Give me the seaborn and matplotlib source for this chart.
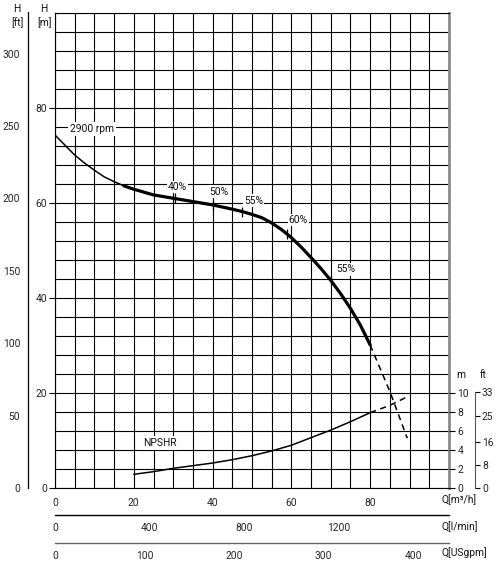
import numpy as np
import matplotlib
matplotlib.use("Agg")
import matplotlib.pyplot as plt
import matplotlib.ticker as mticker
import seaborn as sns

# pump head curve (Q in m3/h, H in m)
q_head = [0, 2.5, 5, 7.5, 10, 12.5, 15, 17.5, 20]
h_head = [74.3, 72.2, 70.1, 68.4, 66.9, 65.5, 64.5, 63.6, 62.9]
q_head_op = [17.5, 20, 25, 30, 35, 40, 45, 47.5, 50, 52.5, 55, 57.5, 60,
             62.5, 65, 67.5, 70, 72.5, 75, 77.5, 80]
h_head_op = [63.6, 62.9, 61.7, 61.0, 60.3, 59.6, 58.7, 58.2, 57.6, 56.9, 55.8,
             54.4, 52.7, 50.7, 48.5, 46.2, 43.7, 40.9, 37.8, 34.3, 30.1]
q_head_ext = [80, 82.5, 85, 89.4]
h_head_ext = [30.1, 25.2, 20.3, 10.5]

# NPSHR curve (m)
q_npsh = [20, 25, 30, 35, 40, 45, 50, 55, 60, 65, 70, 75, 80]
npsh = [1.44, 1.72, 2.07, 2.35, 2.63, 2.98, 3.4, 3.9, 4.5, 5.3, 6.1, 6.98, 7.93]
q_npsh_ext = [80, 85, 89.4]
npsh_ext = [7.93, 8.7, 9.6]

# efficiency marks on the head curve
eff_text = ["40%", "50%", "55%", "60%", "55%"]
eff_q = [30.5, 40, 47.5, 58.9, 70]
eff_h = [61.0, 59.6, 58.2, 53.5, 43.7]
eff_text_q = [31.1, 41.5, 50.4, 61.8, 73.7]
eff_text_h = [63.4, 62.4, 60.5, 56.4, 46.0]

# secondary scales
ft_ticks = [0, 50, 100, 150, 200, 250, 300]
npsh_ticks = [0, 2, 4, 6, 8, 10]
npsh_ft_ticks = [0, 8, 16, 25, 33]
lmin_ticks = [0, 400, 800, 1200]
gpm_ticks = [0, 100, 200, 300, 400]

W, H = 496, 567
M_FT = 0.3048
FS = 7.4
sns.set_style("white")
plt.rcParams['font.family'] = ['Roboto', 'DejaVu Sans']
plt.rcParams['font.size'] = FS
plt.rcParams['text.color'] = '#111111'

fig = plt.figure(figsize=(W / 100, H / 100), dpi=100)


def box(x0, y0, x1, y1):
    return [x0 / W, 1 - y1 / H, (x1 - x0) / W, (y1 - y0) / H]


def ftxt(x, y, s, ha='center'):
    fig.text(x / W, 1 - y / H, s, ha=ha, va='center', fontsize=FS)


ax = fig.add_axes(box(55, 13, 449, 488))
ax.set_xlim(0, 100)
ax.set_ylim(0, 100)
ax.xaxis.set_major_locator(mticker.FixedLocator([0, 20, 40, 60, 80]))
ax.xaxis.set_minor_locator(mticker.MultipleLocator(5))
ax.yaxis.set_major_locator(mticker.FixedLocator([0, 20, 40, 60, 80]))
ax.yaxis.set_minor_locator(mticker.MultipleLocator(4))
ax.grid(which='both', color='black', lw=0.8)
ax.set_axisbelow(True)
ax.tick_params(axis='x', which='both', length=0, pad=7, labelsize=FS)
ax.tick_params(axis='y', which='major', length=4, width=0.8, pad=1.5,
               color='black', labelsize=FS)
ax.tick_params(axis='y', which='minor', length=0)
for s in ['left', 'top', 'bottom']:
    ax.spines[s].set_color('black')
    ax.spines[s].set_linewidth(0.8)
ax.spines['right'].set_color('#8a8a8a')
ax.spines['right'].set_linewidth(2.0)

# head curve
sns.lineplot(x=q_head, y=h_head, ax=ax, color='black', lw=1.1, sort=False)
sns.lineplot(x=q_head_op, y=h_head_op, ax=ax, color='black', lw=2.3, sort=False)
sns.lineplot(x=q_head_ext, y=h_head_ext, ax=ax, color='black', lw=1.1,
             linestyle=(0, (4, 3)), sort=False)
sns.scatterplot(x=eff_q, y=eff_h, ax=ax, marker='|', s=45, color='black',
                linewidth=0.9)
for t, xq, yh in zip(eff_text, eff_text_q, eff_text_h):
    ax.text(xq, yh, t, ha='center', va='center', fontsize=FS,
            bbox=dict(facecolor='white', edgecolor='none', pad=0.8))
ax.text(9.3, 75.5, "2900 rpm", ha='center', va='center', fontsize=FS,
        bbox=dict(facecolor='white', edgecolor='none', pad=1.5))

# NPSHR on its own scale (m)
axn = ax.twinx()
axn.set_ylim(0, 50)
axn.set_yticks(npsh_ticks)
axn.tick_params(axis='y', length=4, width=0.8, pad=2, color='black', labelsize=FS)
for s in axn.spines.values():
    s.set_visible(False)
sns.lineplot(x=q_npsh, y=npsh, ax=axn, color='black', lw=1.1, sort=False)
sns.lineplot(x=q_npsh_ext, y=npsh_ext, ax=axn, color='black', lw=1.1,
             linestyle=(0, (4, 3)), sort=False)
axn.text(26.7, 4.75, "NPSHR", ha='center', va='center', fontsize=FS,
         bbox=dict(facecolor='white', edgecolor='none', pad=1.5))
axn.set_ylabel('')
ax.set_ylabel('')
ax.set_xlabel('')

# H in ft, left
axf = fig.add_axes(box(28, 13, 28.5, 488))
axf.set_ylim(0, 100 / M_FT)
axf.yaxis.set_major_locator(mticker.FixedLocator(ft_ticks))
axf.yaxis.set_minor_locator(mticker.FixedLocator([25, 75, 125, 175, 225, 275]))
axf.tick_params(axis='y', which='both', length=4, width=0.8, pad=1.5,
                color='black', labelsize=FS)
axf.set_xticks([])
for s in ['right', 'top', 'bottom']:
    axf.spines[s].set_visible(False)
axf.spines['left'].set_color('black')
axf.spines['left'].set_linewidth(0.9)
axf.spines['left'].set_bounds(0, 100 / M_FT + 1)

# NPSHR in ft, right
axnf = fig.add_axes(box(474.5, 13, 475, 488))
axnf.set_ylim(0, 50 / M_FT)
axnf.yaxis.tick_right()
axnf.set_yticks(npsh_ft_ticks)
axnf.tick_params(axis='y', length=3.5, width=0.8, pad=1.5, color='black',
                 labelsize=FS)
axnf.set_xticks([])
for s in ['left', 'top', 'bottom']:
    axnf.spines[s].set_visible(False)
axnf.spines['right'].set_color('#555555')
axnf.spines['right'].set_bounds(0, 33)

# flow in l/min
axl = fig.add_axes(box(55, 514, 449, 515))
axl.set_xlim(0, 100 * 1000 / 60)
axl.xaxis.set_major_locator(mticker.FixedLocator(lmin_ticks))
axl.xaxis.set_minor_locator(mticker.FixedLocator([200, 600, 1000, 1400]))
axl.tick_params(axis='x', which='both', length=3, width=0.8, pad=2.5,
                color='black', labelsize=FS)
axl.set_yticks([])
for s in ['left', 'right', 'top']:
    axl.spines[s].set_visible(False)
axl.spines['bottom'].set_color('black')
axl.spines['bottom'].set_linewidth(1.0)

# flow in US gpm
axg = fig.add_axes(box(55, 542, 449, 543))
axg.set_xlim(0, 100 / 0.227125)
axg.xaxis.set_major_locator(mticker.FixedLocator(gpm_ticks))
axg.xaxis.set_minor_locator(mticker.FixedLocator([50, 150, 250, 350]))
axg.tick_params(axis='x', which='both', length=3, width=0.8, pad=2.5,
                color='#444444', labelsize=FS)
axg.set_yticks([])
for s in ['left', 'right', 'top']:
    axg.spines[s].set_visible(False)
axg.spines['bottom'].set_color('#666666')
axg.spines['bottom'].set_linewidth(1.0)

# axis captions
ftxt(17, 9, "H")
ftxt(17, 23, "[ft]")
ftxt(44, 9, "H")
ftxt(45, 23, "[m]")
ftxt(461, 375, "m")
ftxt(483, 375, "ft")
ftxt(441, 500, "Q[m\u00b3/h]", ha='left')
ftxt(441, 527, "Q[l/min]", ha='left')
ftxt(441, 553, "Q[USgpm]", ha='left')

fig.savefig("out.png", dpi=100)
